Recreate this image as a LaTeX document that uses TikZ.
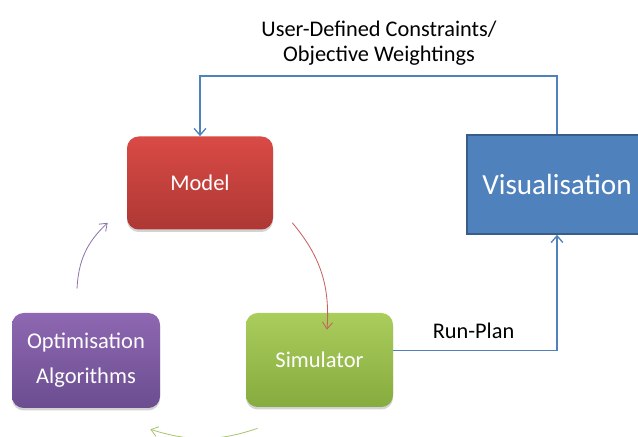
\documentclass[tikz,border=0pt]{standalone}
\usepackage{fontspec}
\setmainfont{Carlito}
\usepackage{tikz}
\usetikzlibrary{arrows.meta,calc,shadows}

\definecolor{modelred}{HTML}{C0504D}
\definecolor{modeltop}{HTML}{D94A45}
\definecolor{modelbot}{HTML}{AE3834}
\definecolor{simgreen}{HTML}{9BBB59}
\definecolor{simtop}{HTML}{AACD5C}
\definecolor{simbot}{HTML}{86AB3E}
\definecolor{optpurple}{HTML}{8064A2}
\definecolor{opttop}{HTML}{8E68B2}
\definecolor{optbot}{HTML}{6B4D90}
\definecolor{visblue}{HTML}{4F81BD}
\definecolor{visedge}{HTML}{385D8A}

\tikzset{
	stagebox/.style={rounded corners=7pt, text=white, align=center,
		font=\fontsize{13.5}{21}\selectfont,
		drop shadow={opacity=0.35, shadow xshift=0pt, shadow yshift=-1.5pt}},
	cycarrow/.style={-{Straight Barb[length=4pt,width=6pt]}, line width=0.5pt},
	feedline/.style={-{Straight Barb[length=4pt,width=7pt]}, visblue, line width=0.8pt},
	lbltext/.style={black, font=\fontsize{13.4}{15}\selectfont},
}

\begin{document}
\begin{tikzpicture}[x=0.6pt, y=0.6pt]
		%%%%% START %%%%%
		\useasboundingbox (0, 0) rectangle (638, 437);
		\clip (0, 0) rectangle (638, 437);
		
		\node[stagebox, minimum width=87.6pt, minimum height=55.8pt,
			top color=modeltop, bottom color=modelbot] (model) at (200, 254) {Model};
		\node[stagebox, minimum width=88.2pt, minimum height=56.4pt,
			top color=simtop, bottom color=simbot] (sim) at (319.5, 77) {Simulator};
		\node[stagebox, minimum width=88.8pt, minimum height=57pt,
			top color=opttop, bottom color=optbot] (opt) at (86, 76.5) {Optimisation\\Algorithms};
		
		\node[fill=visblue, draw=visedge, line width=1pt, text=white,
			minimum width=108pt, minimum height=59.4pt,
			font=\fontsize{17.5}{20}\selectfont] (vis) at (557, 252.5) {Visualisation};
		
		% cycle between the three boxes
		\coordinate (m2s) at ($(model.south east)+(19, 7)$);
		\coordinate (s2m) at ($(sim.north)+(7.5, -17)$);
		\coordinate (s2o) at ($(sim.south west)+(12, -21)$);
		\coordinate (o2s) at ($(opt.south east)+(-10, -21)$);
		\coordinate (o2m) at ($(opt.north)+(-9, 24)$);
		\coordinate (m2o) at ($(model.south west)+(-19, 7)$);
		\draw[cycarrow, modelred!90] (m2s) to[bend left=22] (s2m);
		\draw[cycarrow, simgreen!85] (s2o) to[bend left=18] (o2s);
		\draw[cycarrow, optpurple!90] (o2m) to[bend left=22] (m2o);
		
		% feedback loop through the visualisation
		\draw[feedline] (vis.north) -- ++(0, 58) -| (model.north);
		\draw[feedline] ($(sim.east)+(0, 9.5)$) -| (vis.south)
			node[pos=0.245, anchor=base, yshift=7.4pt, lbltext] {Run-Plan};
		
		\node[align=center, lbltext] (userlbl) at (379, 394)
			{User-Defined Constraints/\\Objective Weightings};
		
		%%%%% END %%%%%
	\end{tikzpicture}
\end{document}
